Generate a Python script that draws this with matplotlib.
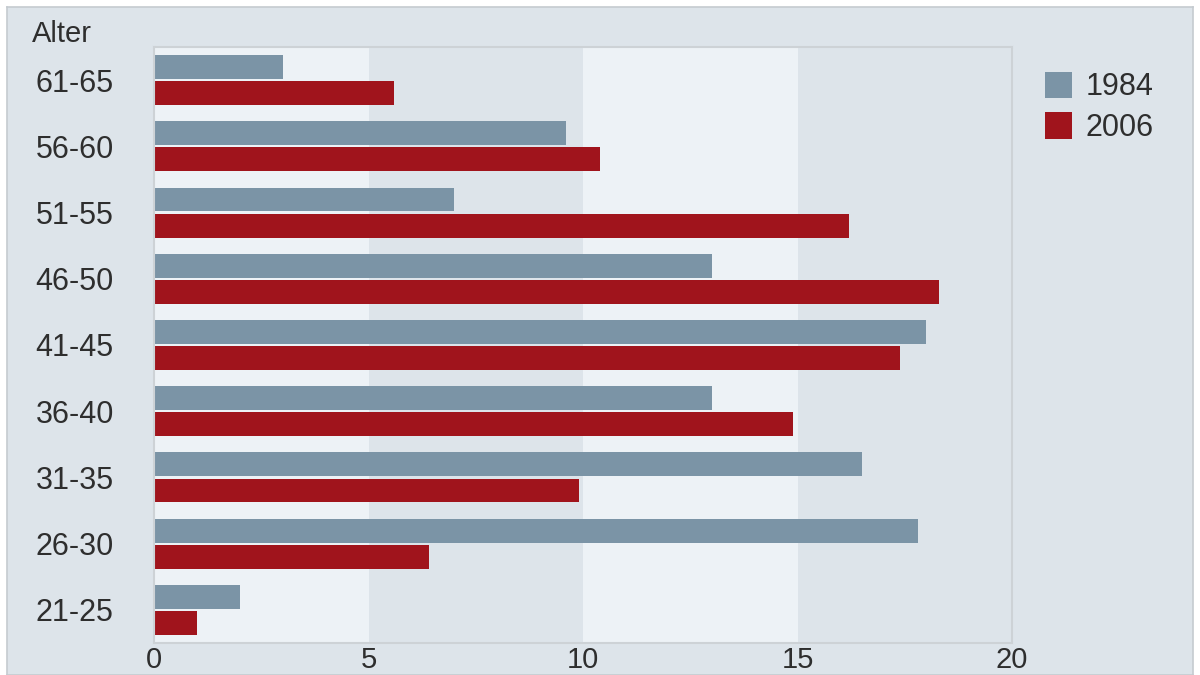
import matplotlib
matplotlib.use("Agg")
import matplotlib.pyplot as plt
from matplotlib.patches import Patch
import numpy as np

age_groups = ["61-65", "56-60", "51-55", "46-50", "41-45", "36-40", "31-35", "26-30", "21-25"]
values_1984 = [3.0, 9.6, 7.0, 13.0, 18.0, 13.0, 16.5, 17.8, 2.0]
values_2006 = [5.6, 10.4, 16.2, 18.3, 17.4, 14.9, 9.9, 6.4, 1.0]
series_labels = ["1984", "2006"]
x_ticks = [0, 5, 10, 15, 20]

col_1984 = "#7b94a6"
col_2006 = "#a0141c"
panel = "#dde4ea"
light = "#edf2f6"
txt = "#2e2e2e"

plt.rcParams['font.family'] = ['Liberation Sans', 'DejaVu Sans']

fig = plt.figure(figsize=(12, 6.75), dpi=100)
fig.patch.set_facecolor("white")

bg = fig.add_axes([7/1200, 0, 1186/1200, 1 - 7/675], zorder=-5)
bg.set_facecolor(panel)
bg.set_xticks([])
bg.set_yticks([])
for s in bg.spines.values():
    s.set_color("#c5cbd0")
    s.set_linewidth(1.2)

ax = fig.add_axes([154/1200, 1 - 643/675, (1012-154)/1200, (643-47)/675], zorder=1)
ax.set_facecolor(panel)
for a, b in [(0, 5), (10, 15)]:
    ax.axvspan(a, b, color=light, zorder=0, lw=0)

y = np.arange(len(age_groups))
h = 0.36
off = 0.197
ax.barh(y - off, values_1984, height=h, color=col_1984, zorder=2, label=series_labels[0])
ax.barh(y + off, values_2006, height=h, color=col_2006, zorder=2, label=series_labels[1])

ax.set_xlim(0, 20)
ax.set_ylim(len(age_groups) - 0.5, -0.5)
ax.set_xticks(x_ticks)
ax.set_xticklabels([str(t) for t in x_ticks])
ax.set_yticks(y)
ax.set_yticklabels(age_groups)
ax.tick_params(axis='y', length=0, pad=29, labelsize=22, labelcolor=txt)
ax.tick_params(axis='x', length=0, pad=2, labelsize=21, labelcolor=txt)
for s in ax.spines.values():
    s.set_color("#cdd2d6")
    s.set_linewidth(1.5)

fig.text(32/1200, 1 - 34/675, "Alter", fontsize=21, color=txt, va="center", ha="left")

handles = [Patch(facecolor=col_1984), Patch(facecolor=col_2006)]
leg = fig.legend(handles, series_labels, loc="upper left",
                 bbox_to_anchor=(1017/1200, 1 - 44/675), frameon=False,
                 fontsize=22, handlelength=0.9, handleheight=0.95,
                 handletextpad=0.45, labelspacing=0.33, labelcolor=txt)

fig.savefig("out.png", dpi=100, facecolor=fig.get_facecolor())
